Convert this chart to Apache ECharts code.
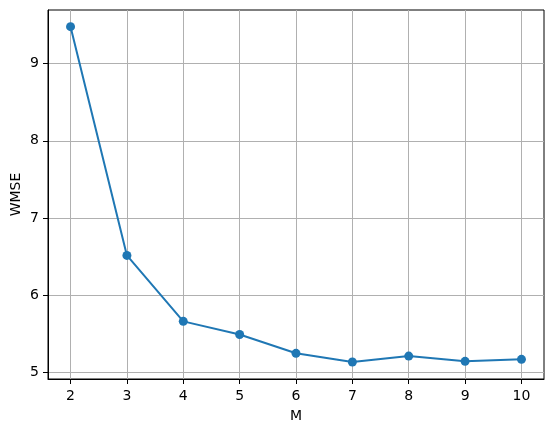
<!DOCTYPE html>
<html>
<head>
    <meta charset="utf-8">
    <script src="https://cdn.jsdelivr.net/npm/echarts@6/dist/echarts.min.js"></script>
</head>
<body style="margin:0">
    <div id="main" style="width:554px;height:432px"></div>
    <script type="text/javascript">
        // data
        var mValues = [2, 3, 4, 5, 6, 7, 8, 9, 10];
        var wmse = [9.48, 6.515, 5.66, 5.49, 5.246, 5.133, 5.21, 5.142, 5.168];
        var xTicks = [2, 3, 4, 5, 6, 7, 8, 9, 10];
        var yTicks = [5, 6, 7, 8, 9];

        var points = [];
        for (var i = 0; i < mValues.length; i++) {
            points.push([mValues[i], wmse[i]]);
        }

        var font = 'DejaVu Sans';
        var chart = echarts.init(document.getElementById('main'));

        var option = {
            animation: false,
            grid: {
                left: 48, right: 10, top: 10, bottom: 53,
                containLabel: false,
                outerBoundsMode: 'none',
                show: true,
                borderColor: '#000',
                borderWidth: 1,
                backgroundColor: 'transparent'
            },
            xAxis: {
                type: 'value',
                min: 1.6,
                max: 10.4,
                name: 'M',
                nameLocation: 'middle',
                nameGap: 30,
                nameMoveOverlap: false,
                nameTextStyle: { fontFamily: font, fontSize: 14, color: '#000' },
                axisLine: { onZero: false, lineStyle: { color: '#000', width: 1 } },
                axisTick: { show: true, length: 5, customValues: xTicks, lineStyle: { color: '#000' } },
                axisLabel: { customValues: xTicks, margin: 10, fontFamily: font, fontSize: 14, color: '#000' },
                splitLine: { show: true, lineStyle: { color: '#b0b0b0', width: 1 } }
            },
            yAxis: {
                type: 'value',
                min: 4.913,
                max: 9.696,
                name: 'WMSE',
                nameLocation: 'middle',
                nameGap: 25,
                nameMoveOverlap: false,
                nameTextStyle: { fontFamily: font, fontSize: 14, color: '#000' },
                axisLine: { show: true, onZero: false, lineStyle: { color: '#000', width: 1 } },
                axisTick: { show: true, length: 5, customValues: yTicks, lineStyle: { color: '#000' } },
                axisLabel: { customValues: yTicks, margin: 9, fontFamily: font, fontSize: 14, color: '#000' },
                splitLine: { show: true, lineStyle: { color: '#b0b0b0', width: 1 } }
            },
            series: [{
                type: 'line',
                data: points,
                symbol: 'circle',
                symbolSize: 9,
                itemStyle: { color: '#1f77b4' },
                lineStyle: { color: '#1f77b4', width: 2 }
            }]
        };

        chart.setOption(option);
    </script>
</body>
</html>
